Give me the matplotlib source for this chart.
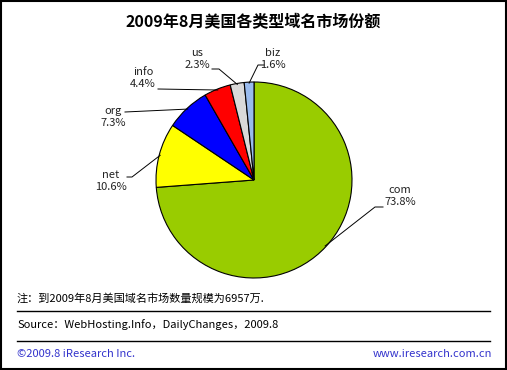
import numpy as np
import matplotlib
matplotlib.use("Agg")
import matplotlib.pyplot as plt
from matplotlib.patches import Rectangle

plt.rcParams['font.family'] = ['Noto Sans CJK SC', 'DejaVu Sans']

# data
names = ["com", "net", "org", "info", "us", "biz"]
shares = [73.8, 10.6, 7.3, 4.4, 2.3, 1.6]
colors = ["#99CC00", "#FFFF00", "#0000FF", "#FF0000", "#D9D9D9", "#99BBEE"]
title = "2009年8月美国各类型域名市场份额"
note = "注：到2009年8月美国域名市场数量规模为6957万."
source = "Source：WebHosting.Info，DailyChanges，2009.8"
copyright_txt = "©2009.8 iResearch Inc."
site = "www.iresearch.com.cn"

W, H = 507, 370
fig = plt.figure(figsize=(W / 100, H / 100), dpi=100)
ax = fig.add_axes([0, 0, 1, 1])

def Y(y):
    return H - y

cx, cy, r = 254, 180, 98
wedges, _ = ax.pie(shares, colors=colors, startangle=90, counterclock=False,
                   center=(cx, Y(cy)), radius=r,
                   wedgeprops=dict(edgecolor="black", linewidth=0.8))
ax.set_xlim(0, W)
ax.set_ylim(0, H)
ax.set_aspect("equal")
ax.axis("off")

# label positions (text center) and leader line bends, in pixel coords
label_pos = {
    "com": (400, 196), "net": (111, 181), "org": (113, 117),
    "info": (143, 78), "us": (197, 59), "biz": (273, 59),
}
leader = {
    "com": [(383, 207), (375, 207)],
    "net": [(127, 177), (132, 177)],
    "org": [(125, 112)],
    "info": [(158, 89)],
    "us": [(212, 69), (219, 69)],
    "biz": [(264, 65), (258, 65)],
}

for w, n, s in zip(wedges, names, shares):
    mid = np.deg2rad((w.theta1 + w.theta2) / 2)
    ax_pt = (cx + r * 0.99 * np.cos(mid), Y(cy) + r * 0.99 * np.sin(mid))
    pts = [(x, Y(y)) for x, y in leader[n]] + [ax_pt]
    xs, ys = zip(*pts)
    ax.plot(xs, ys, color="black", lw=0.7)
    lx, ly = label_pos[n]
    ax.text(lx, Y(ly), f"{n}\n{s:.1f}%", ha="center", va="center",
            fontsize=8, linespacing=1.2, color="#222222")

ax.text(W / 2, Y(22), title, ha="center", va="center", fontsize=11.5,
        fontweight="bold")
ax.text(17, Y(298), note, ha="left", va="center", fontsize=8)
ax.plot([17, 490], [Y(311), Y(311)], color="black", lw=1)
ax.text(17, Y(325), source, ha="left", va="center", fontsize=8)
ax.plot([17, 490], [Y(341), Y(341)], color="black", lw=1)
ax.text(17, Y(354), copyright_txt, ha="left", va="center", fontsize=8,
        color="#3333CC")
ax.text(492, Y(354), site, ha="right", va="center", fontsize=8,
        color="#3333CC")

ax.add_patch(Rectangle((1, 1), W - 2, H - 2, fill=False, edgecolor="black",
                       lw=1.5))

fig.savefig("out.png", dpi=100)
